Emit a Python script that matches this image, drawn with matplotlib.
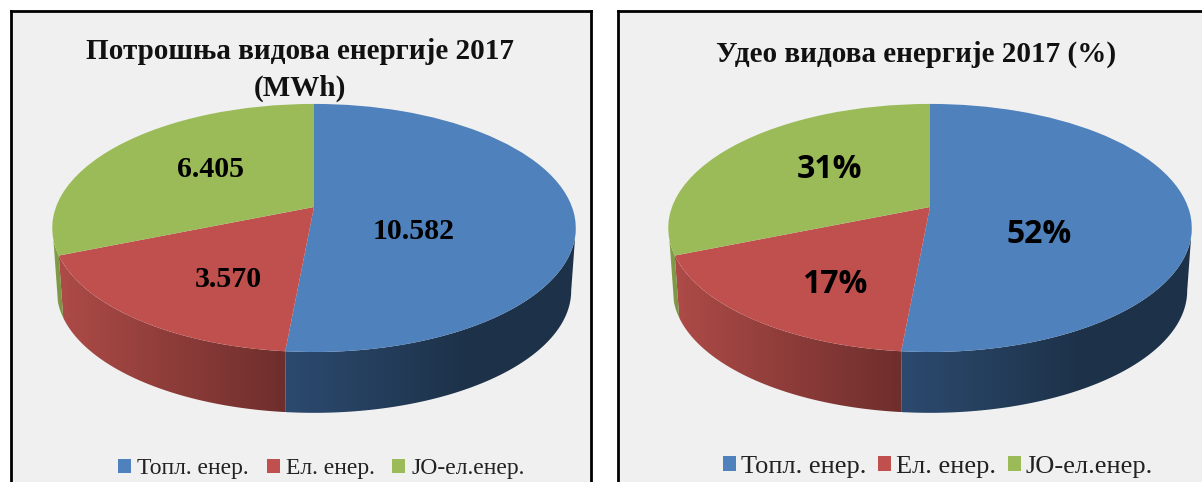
import numpy as np
import matplotlib
matplotlib.use("Agg")
import matplotlib.pyplot as plt
from matplotlib.colors import LinearSegmentedColormap
from matplotlib.patches import Polygon
from matplotlib.transforms import Transform

# Data
categories = ["Топл. енер.", "Ел. енер.", "JO-ел.енер."]
energy_mwh = [10582, 3570, 6405]
share_pct = [52, 17, 31]
title_left = "Потрошња видова енергије 2017\n(MWh)"
title_right = "Удео видова енергије 2017 (%)"

# Colours
top_colors = ["#4f81bd", "#c0504d", "#9bbb59"]
wall_colors = [("#2c4a6f", "#1d3249"), ("#ad4b47", "#6e2e2c"), ("#84a04a", "#7a9444")]
panel_color = "#f0f0f0"

SERIF = "Liberation Serif"
SANS = "Open Sans"


class TiltTransform(Transform):
    # perspective view of the unit circle, output in figure pixels
    input_dims = 2
    output_dims = 2
    is_separable = False

    def __init__(self, cx, cy, a=120.5, b=258.0, k=0.169):
        super().__init__()
        self.cx, self.cy, self.a, self.b, self.k = cx, cy, a, b, k

    def transform_non_affine(self, values):
        values = np.asarray(values, dtype=float)
        w = 1 + self.k * values[:, 1]
        return np.column_stack([self.cx + self.b * values[:, 0] / w,
                                self.cy - self.a * values[:, 1] / w])


def arc(tilt, t1, t2):
    t = np.radians(np.linspace(t1, t2, 80))
    return tilt.transform_non_affine(np.column_stack([np.cos(t), np.sin(t)]))


def draw_pie(ax, cx, box, title, title_xy, labels, label_xy, label_font, label_size,
             legend_xy, legend_size, handle, text_pad, col_space, title_size, line_space):
    x0, x1, y0, y1 = box
    ax.set_facecolor(panel_color)
    top = TiltTransform(cx, 207)
    bottom = TiltTransform(cx, 270, a=118.7, b=253.5)

    wedges, _ = ax.pie(energy_mwh, colors=top_colors, startangle=90, counterclock=False,
                       frame=True, wedgeprops={"linewidth": 0, "zorder": 3})
    for w in wedges:
        w.set_transform(top + ax.transData)

    # side walls, only the part of each slice facing the viewer
    fractions = np.array(energy_mwh) / sum(energy_mwh)
    ends = 90 - 360 * np.cumsum(fractions)
    starts = np.r_[90, ends[:-1]]
    for s, e, pair in zip(starts, ends, wall_colors):
        t1, t2 = min(s, -9.7), max(e, -165)
        if t1 <= t2:
            continue
        pts = np.vstack([arc(top, t1, t2), arc(bottom, t2, t1)])
        poly = Polygon(pts, closed=True, transform=ax.transData, fc="none", ec="none")
        ax.add_patch(poly)
        # gradient goes left to right along the wall
        cmap = LinearSegmentedColormap.from_list("wall", pair)
        if pair is wall_colors[0]:
            ramp = np.clip(np.linspace(0, 1.6, 256), 0, 1)
        else:
            ramp = np.linspace(0, 1, 256)
        im = ax.imshow(ramp[None, :], cmap=cmap, vmin=0, vmax=1, aspect="auto", zorder=2,
                       extent=(pts[:, 0].min(), pts[:, 0].max(), pts[:, 1].max(), pts[:, 1].min()))
        im.set_clip_path(poly)

    ax.set_aspect("auto")
    ax.set_xlim(x0, x1)
    ax.set_ylim(y1, y0)
    ax.set_xticks([])
    ax.set_yticks([])
    for sp in ax.spines.values():
        sp.set_linewidth(2)
        sp.set_color("#000000")

    ax.text(title_xy[0], title_xy[1], title, ha="center", va="center", family=SERIF,
            fontweight="bold", fontsize=title_size, linespacing=line_space, color="#111111", zorder=5)
    for txt, (lx, ly) in zip(labels, label_xy):
        ax.text(lx, ly, txt, ha="center", va="center", family=label_font, fontweight="bold",
                fontsize=label_size, color="#000000", zorder=5)

    ax.legend(wedges, categories, loc="center", bbox_to_anchor=legend_xy,
              bbox_transform=ax.transData, ncol=3, frameon=False,
              prop={"family": SERIF, "size": legend_size}, handlelength=handle, handleheight=handle,
              handletextpad=text_pad, columnspacing=col_space, labelcolor="#222222",
              borderpad=0, borderaxespad=0)


def mwh_label(v):
    return f"{v:,}".replace(",", ".")


fig = plt.figure(figsize=(12.02, 4.82), dpi=100, facecolor="white")


def panel(x0, x1, y0, y1):
    return fig.add_axes([x0 / 1202, 1 - y1 / 482, (x1 - x0) / 1202, (y1 - y0) / 482])


box_left = (11, 591, 11, 492)
box_right = (618, 1212, 11, 492)

draw_pie(panel(*box_left), 314, box_left, title_left, (300, 70),
         [mwh_label(v) for v in energy_mwh], [(414, 232), (228, 280), (211, 170)],
         SERIF, 21.5, (321.5, 469), 17, 0.55, 0.25, 0.76, 21, 1.45)

draw_pie(panel(*box_right), 930, box_right, title_right, (916, 54),
         [f"{v}%" for v in share_pct], [(1039, 235), (835, 285), (829, 170)],
         SANS, 23, (938, 467), 19, 0.49, 0.19, 0.45, 21, 1.2)

fig.savefig("out.png", dpi=100, facecolor=fig.get_facecolor())
